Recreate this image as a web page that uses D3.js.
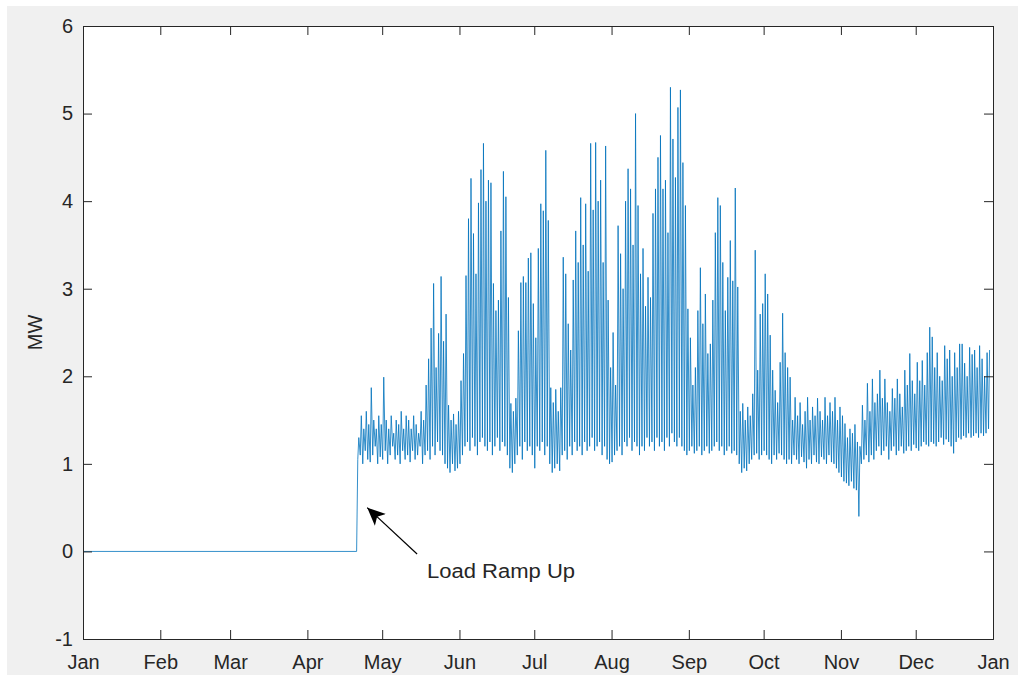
<!DOCTYPE html>
<html>
<head>
<meta charset="utf-8">
<script src="https://cdn.jsdelivr.net/npm/d3@7"></script>
<style>
  body { margin: 0; background: #fff; }
  svg { display: block; }
  text { font-family: "Liberation Sans", Arial, Helvetica, sans-serif; fill: #262626; }
</style>
</head>
<body>
<svg id="chart" width="1018" height="675"></svg>
<script>
// ---- data ----
const monthLabels = ["Jan", "Feb", "Mar", "Apr", "May", "Jun", "Jul", "Aug", "Sep", "Oct", "Nov", "Dec", "Jan"];
const yTicks = [-1, 0, 1, 2, 3, 4, 5, 6];

// plant idle until the load ramp
const preLoad = [["2015-01-01T00:00", 0], ["2015-04-20T18:00", 0]];

// one low (night) and one high (afternoon) value per day, from Apr 21 to Dec 31
const loadStart = "2015-04-21";
const dailyLow = [
  1.05, 1.1, 1.0, 1.15, 1.05, 1.02, 1.1, 1.2, 1.0, 1.08,
  1.05, 1.15, 1.0, 1.1, 1.2, 1.05, 1.1, 1.0, 1.15, 1.05,
  1.1, 1.02, 1.15, 1.05, 1.1, 1.2, 1.0, 1.1, 1.15, 1.05,
  1.2, 1.1, 1.25, 1.15, 1.1, 1.0, 0.95, 0.9, 1.0, 0.92,
  0.95, 1.0, 1.1, 1.2, 1.25, 1.15, 1.3, 1.2, 1.1, 1.25,
  1.3, 1.2, 1.15, 1.25, 1.1, 1.2, 1.3, 1.15, 1.25, 1.2,
  1.1, 0.95, 0.9, 1.0, 1.1, 1.2, 1.05, 1.25, 1.15, 1.2,
  1.1, 0.95, 1.2, 1.15, 1.25, 1.1, 1.2, 1.0, 0.9, 0.95,
  1.0, 0.92, 1.1, 1.15, 1.05, 1.2, 1.1, 1.25, 1.15, 1.2,
  1.1, 1.25, 1.15, 1.2, 1.3, 1.15, 1.2, 1.25, 1.1, 1.2,
  1.05, 1.0, 1.02, 1.1, 1.15, 1.2, 1.1, 1.25, 1.2, 1.3,
  1.15, 1.25, 1.2, 1.1, 1.2, 1.15, 1.3, 1.2, 1.25, 1.15,
  1.3, 1.2, 1.25, 1.15, 1.3, 1.2, 1.35, 1.25, 1.2, 1.3,
  1.2, 1.15, 1.1, 1.15, 1.2, 1.12, 1.15, 1.2, 1.1, 1.15,
  1.2, 1.12, 1.15, 1.2, 1.25, 1.15, 1.2, 1.1, 1.15, 1.2,
  1.12, 1.15, 1.1, 1.0, 0.9, 0.95, 0.92, 1.0, 1.05, 1.1,
  1.12, 1.05, 1.1, 1.15, 1.1, 1.05, 1.0, 1.1, 1.05, 1.12,
  1.1, 1.05, 1.0, 1.05, 1.0, 1.1, 1.05, 1.0, 1.08, 1.02,
  0.95, 1.05, 1.0, 1.1, 1.02, 1.0, 1.08, 1.05, 1.0, 1.1,
  1.02, 1.0, 0.95, 0.9, 0.85, 0.8, 0.78, 0.75, 0.8, 0.72,
  0.7, 0.4, 1.0, 1.05, 1.1, 1.02, 1.1, 1.05, 1.15, 1.2,
  1.1, 1.15, 1.2, 1.05, 1.15, 1.2, 1.1, 1.15, 1.2, 1.12,
  1.15, 1.2, 1.15, 1.22, 1.18, 1.15, 1.2, 1.25, 1.22, 1.2,
  1.25, 1.23, 1.2, 1.25, 1.3, 1.22, 1.28, 1.25, 1.2, 1.12,
  1.25, 1.3, 1.28, 1.32, 1.3, 1.35, 1.3, 1.32, 1.35, 1.3,
  1.35, 1.32, 1.35, 1.4
];
const dailyHigh = [
  1.3, 1.55, 1.4, 1.6, 1.45, 1.87, 1.5, 1.4, 1.55, 1.45,
  1.99, 1.5, 1.4, 1.55, 1.35, 1.5, 1.45, 1.6, 1.4, 1.55,
  1.5, 1.4, 1.55, 1.45, 1.35, 1.6, 1.5, 1.9, 2.2, 2.55,
  3.06, 2.1, 2.49, 3.14, 2.4, 2.71, 1.67, 1.5, 1.57, 1.45,
  1.6, 1.95, 2.26, 3.15, 3.8, 4.26, 3.63, 3.17, 3.98, 4.36,
  4.66, 4.0, 4.24, 4.21, 3.06, 2.75, 2.87, 3.66, 4.34, 4.05,
  2.9, 1.69, 1.6, 1.75, 2.52, 3.07, 3.14, 3.07, 3.35, 3.41,
  2.83, 2.44, 3.46, 3.97, 3.89, 4.58, 3.78, 1.87, 1.7, 1.85,
  1.6, 1.87, 3.36, 3.17, 2.6, 2.3, 3.1, 3.66, 3.3, 4.04,
  3.5, 3.97, 3.2, 4.66, 3.9, 4.67, 4.0, 4.24, 3.3, 4.63,
  2.87, 2.1, 2.5, 1.9, 3.72, 3.4, 3.0, 4.0, 4.37, 4.14,
  3.5, 5.0, 3.95, 3.17, 3.46, 2.8, 3.13, 2.9, 3.86, 4.14,
  4.5, 4.75, 4.14, 4.24, 3.64, 5.3, 4.71, 4.27, 5.07, 5.27,
  4.44, 3.95, 2.77, 2.44, 1.9, 2.1, 2.75, 3.24, 2.6, 2.94,
  2.26, 2.37, 2.87, 3.64, 4.04, 3.95, 3.3, 2.75, 3.13, 3.55,
  3.09, 4.15, 3.02, 1.6, 1.69, 1.5, 1.65, 1.55, 1.8, 3.44,
  2.07, 2.71, 2.83, 3.17, 2.94, 2.47, 2.07, 1.84, 1.7, 2.16,
  2.72, 2.27, 2.1, 1.99, 1.5, 1.76, 1.55, 1.7, 1.45, 1.6,
  1.76, 1.5, 1.65, 1.55, 1.75, 1.6, 1.5, 1.76, 1.55, 1.7,
  1.6, 1.76, 1.5, 1.65, 1.55, 1.46, 1.3, 1.4, 1.35, 1.45,
  1.25, 1.2, 1.67, 1.5, 1.92, 1.6, 1.97, 1.7, 1.8, 2.07,
  1.75, 1.97, 1.7, 1.6, 1.86, 1.75, 1.97, 1.8, 1.65, 2.07,
  1.9, 2.26, 1.95, 1.8, 2.16, 1.95, 2.18, 1.9, 2.27, 2.56,
  2.45, 2.1, 2.27, 2.0, 1.95, 2.35, 2.2, 2.3, 2.0, 2.27,
  2.1, 2.37, 2.37, 2.15, 2.0, 2.33, 2.25, 2.3, 2.1, 2.35,
  2.2, 2.0, 2.27, 2.3
];

// annotation: arrow tip, arrow tail, label
const note = { text: "Load Ramp Up", tip: ["2015-04-25", 0.5], tail: ["2015-05-15", -0.03], label: ["2015-05-19", -0.24] };

// ---- layout ----
const W = 1018, H = 675;
const margin = { top: 26, right: 25, bottom: 36, left: 83 };
const parse = d3.timeParse("%Y-%m-%dT%H:%M");
const parseDay = d3.timeParse("%Y-%m-%d");

const series = preLoad.map(([t, v]) => ({ date: parse(t), mw: v }));
const start = parseDay(loadStart);
dailyLow.forEach((lo, i) => {
  const day = d3.timeDay.offset(start, i);
  series.push({ date: d3.timeHour.offset(day, 5), mw: lo });
  series.push({ date: d3.timeHour.offset(day, 15), mw: dailyHigh[i] });
});

const svg = d3.select("#chart");
svg.append("rect").attr("x", 7).attr("y", 6).attr("width", W - 7).attr("height", H - 6).attr("fill", "#f0f0f0");

const x = d3.scaleTime()
  .domain([new Date(2015, 0, 1), new Date(2016, 0, 1)])
  .range([margin.left, W - margin.right]);
const y = d3.scaleLinear()
  .domain([-1, 6])
  .range([H - margin.bottom, margin.top]);

svg.append("rect")
  .attr("x", x.range()[0]).attr("y", y.range()[1])
  .attr("width", x.range()[1] - x.range()[0]).attr("height", y.range()[0] - y.range()[1])
  .attr("fill", "#fff");

const monthTicks = d3.timeMonth.range(new Date(2015, 0, 1), new Date(2016, 0, 2));

// data line
svg.append("path")
  .datum(series)
  .attr("fill", "none")
  .attr("stroke", "#0072bd")
  .attr("stroke-width", 0.8)
  .attr("stroke-linejoin", "round")
  .attr("d", d3.line().x(d => x(d.date)).y(d => y(d.mw)));

// axes (MATLAB style: ticks inward, box on)
const tickLen = 9;
const xAxis = svg.append("g")
  .attr("transform", `translate(0,${y(-1)})`)
  .call(d3.axisBottom(x).tickValues(monthTicks).tickFormat((d, i) => monthLabels[i]).tickSize(-tickLen).tickPadding(16));
const xTop = svg.append("g")
  .attr("transform", `translate(0,${y(6)})`)
  .call(d3.axisTop(x).tickValues(monthTicks).tickFormat("").tickSize(-tickLen));
const yAxis = svg.append("g")
  .attr("transform", `translate(${x.range()[0]},0)`)
  .call(d3.axisLeft(y).tickValues(yTicks).tickFormat(d => String(d)).tickSize(-tickLen).tickPadding(10));
const yRight = svg.append("g")
  .attr("transform", `translate(${x.range()[1]},0)`)
  .call(d3.axisRight(y).tickValues(yTicks).tickFormat("").tickSize(-tickLen));

[xAxis, xTop, yAxis, yRight].forEach(g => {
  g.selectAll(".domain").attr("stroke", "#262626").attr("stroke-width", 1);
  g.selectAll(".tick line").attr("stroke", "#262626");
  g.selectAll("text").attr("font-size", 20).attr("fill", "#262626");
});

// y label
svg.append("text")
  .attr("transform", `translate(42,${(y(6) + y(-1)) / 2}) rotate(-90)`)
  .attr("text-anchor", "middle")
  .attr("font-size", 20)
  .text("MW");

// annotation
svg.append("defs").append("marker")
  .attr("id", "head").attr("viewBox", "0 0 10 10")
  .attr("refX", 10).attr("refY", 5)
  .attr("markerWidth", 18).attr("markerHeight", 18)
  .attr("markerUnits", "userSpaceOnUse")
  .attr("orient", "auto")
  .append("path").attr("d", "M0,0.5 L10,5 L0,9.5 L2.5,5 Z").attr("fill", "#000");

const pt = ([d, v]) => [x(parseDay(d)), y(v)];
const [tx, ty] = pt(note.tip), [sx, sy] = pt(note.tail), [lx, ly] = pt(note.label);
svg.append("line")
  .attr("x1", sx).attr("y1", sy).attr("x2", tx).attr("y2", ty)
  .attr("stroke", "#000").attr("stroke-width", 1.2)
  .attr("marker-end", "url(#head)");
svg.append("text")
  .attr("x", lx).attr("y", ly)
  .attr("dominant-baseline", "middle")
  .attr("font-size", 20)
  .attr("textLength", 148)
  .attr("lengthAdjust", "spacingAndGlyphs")
  .attr("fill", "#000")
  .text(note.text);
</script>
</body>
</html>
